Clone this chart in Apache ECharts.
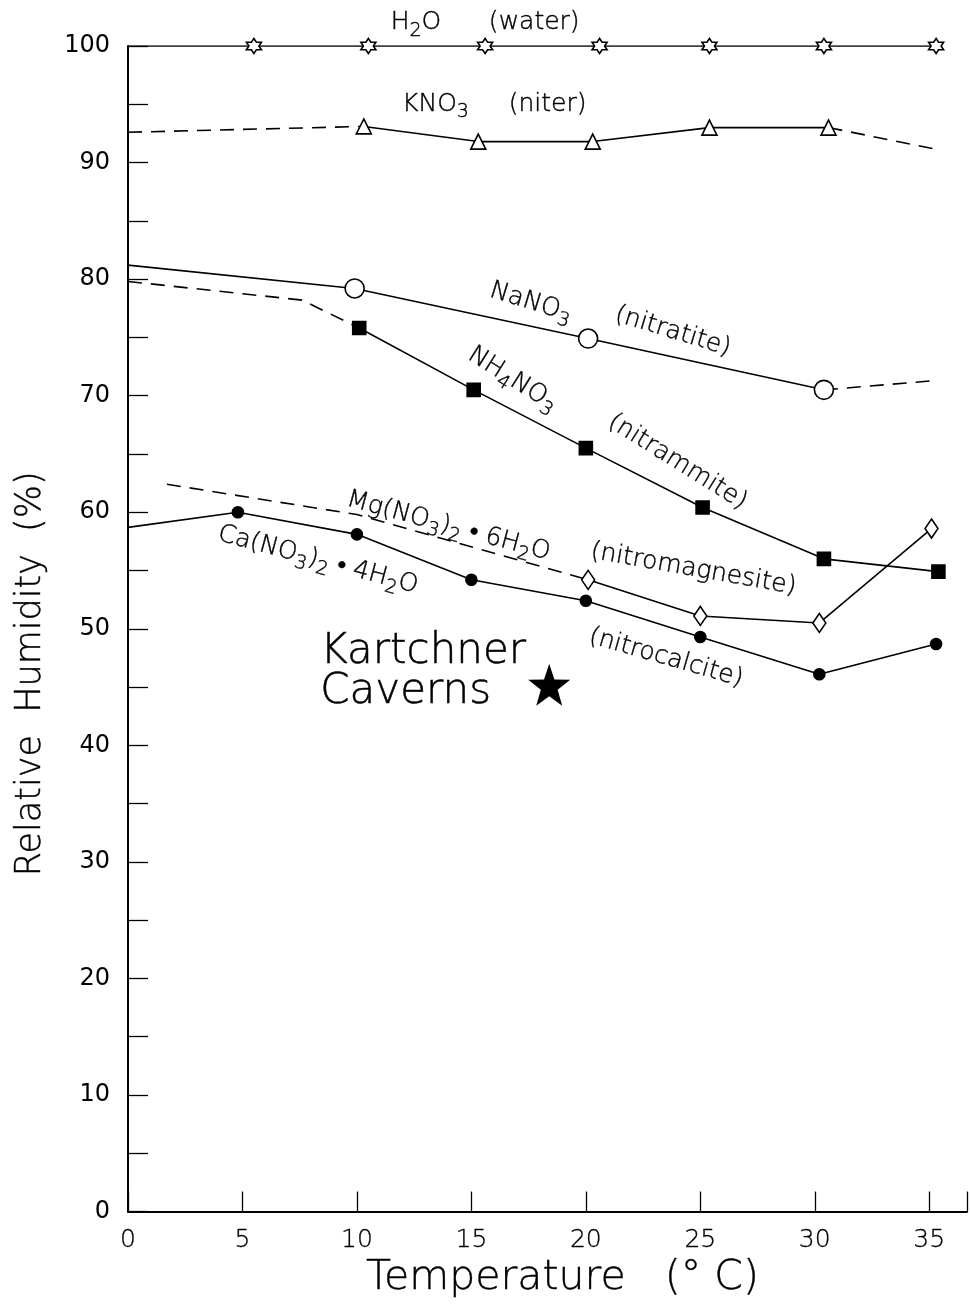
<!DOCTYPE html>
<html>
<head>
<meta charset="utf-8">
<script src="https://cdn.jsdelivr.net/npm/echarts@6/dist/echarts.min.js"></script>
<style>html,body{margin:0;padding:0;background:#fff}#c{width:970px;height:1304px}</style>
</head>
<body>
<div id="c"></div>
<script>
// ---- data (temperature °C, relative humidity %) ----
const h2oPts = [[5.5,100],[10.5,100],[15.6,100],[20.6,100],[25.4,100],[30.4,100],[35.3,100]];
const h2oSolidIn = [[0,100],[5.5,100]];
const kno3Pts = [[10.3,93.1],[15.3,91.8],[20.3,91.8],[25.4,93.0],[30.6,93.0]];
const kno3DashIn = [[0,92.6],[10.3,93.1]];
const kno3DashOut = [[30.6,93.0],[35.4,91.1]];
const nano3Pts = [[9.9,79.2],[20.1,74.9],[30.4,70.5]];
const nano3SolidIn = [[0,81.2],[9.9,79.2]];
const nano3DashOut = [[30.4,70.5],[35.3,71.3]];
const nh4Pts = [[10.1,75.8],[15.1,70.5],[20.0,65.5],[25.1,60.4],[30.4,56.0],[35.4,54.9]];
const nh4DashIn = [[0,79.8],[7.6,78.2],[10.1,75.8]];
const mgPts = [[20.1,54.2],[25.0,51.1],[30.2,50.5],[35.1,58.6]];
const mgDashIn = [[1.7,62.4],[10.0,59.8],[20.1,54.2]];
const caPts = [[4.8,60.0],[10.0,58.1],[15.0,54.2],[20.0,52.4],[25.0,49.3],[30.2,46.1],[35.3,48.7]];
const caSolidIn = [[0,58.7],[4.8,60.0]];
const kartchner = [[18.4,45.2]];
const xTicks = [0,5,10,15,20,25,30,35];
const yTicks = [0,10,20,30,40,50,60,70,80,90,100];

// ---- annotation texts ----
const labels = [
  {text: 'H{s|2}O      (water)', at: [15.6, 102.0], rot: 0},
  {text: 'KNO{s|3}     (niter)', at: [16.0, 95.0], rot: 0},
  {text: 'NaNO{s|3}', at: [17.6, 78.0], rot: -17},
  {text: '(nitratite)', at: [23.8, 75.5], rot: -17},
  {text: 'NH{s|4}NO{s|3}', at: [16.8, 71.4], rot: -32},
  {text: '(nitrammite)', at: [24.0, 64.3], rot: -32},
  {text: 'Mg(NO{s|3}){s|2} • 6H{s|2}O', at: [14.0, 58.8], rot: -15},
  {text: '(nitromagnesite)', at: [24.7, 55.1], rot: -10},
  {text: 'Ca(NO{s|3}){s|2} • 4H{s|2}O', at: [8.3, 55.9], rot: -15},
  {text: '(nitrocalcite)', at: [23.5, 47.5], rot: -16}
];
const caveText = 'Kartchner\nCaverns';
const caveAt = [8.4, 46.3];

const FONT = "'DejaVu Sans',sans-serif";
const LIGHT = 200;
const hexagram = 'path://M0,-10L2.89,-5L8.66,-5L5.77,0L8.66,5L2.89,5L0,10L-2.89,5L-8.66,5L-5.77,0L-8.66,-5L-2.89,-5Z';
const star5 = 'path://M0,-10L2.35,-3.24L9.51,-3.09L3.8,1.24L5.88,8.09L0,4L-5.88,8.09L-3.8,1.24L-9.51,-3.09L-2.35,-3.24Z';

function line(data, opts) {
  return Object.assign({
    type: 'line', data: data, showSymbol: false, symbol: 'none',
    lineStyle: {color: '#000', width: 1.6, type: 'solid'},
    silent: true, animation: false, z: 2
  }, opts || {});
}
function marked(data, symbol, size, filled) {
  return {
    type: 'line', data: data, symbol: symbol, symbolSize: size, showSymbol: true,
    lineStyle: {color: '#000', width: 1.6},
    itemStyle: {color: filled ? '#000' : '#fff', borderColor: '#000', borderWidth: 1.6, opacity: 1},
    animation: false, silent: true, z: 3
  };
}
const dash = {color: '#000', width: 1.6, type: [14, 9]};

const richSub = {
  s: {fontSize: 19, fontFamily: FONT, fontWeight: LIGHT, color: '#000', padding: [16, 0, 0, 0]}
};

const labelSeries = {
  type: 'scatter', clip: false, symbolSize: 0, silent: true, animation: false, z: 5,
  itemStyle: {opacity: 1},
  data: labels.map(l => ({
    value: l.at,
    label: {
      show: true, position: 'inside', rotate: l.rot,
      formatter: l.text, fontSize: 25, fontFamily: FONT, fontWeight: LIGHT, color: '#000',
      textBorderColor: '#000', textBorderWidth: 0.4,
      rich: richSub
    }
  }))
};
const caveSeries = {
  type: 'scatter', clip: false, symbolSize: 0, silent: true, animation: false, z: 5,
  itemStyle: {opacity: 1},
  data: [{value: caveAt, label: {show: true, position: 'inside', align: 'left',
    formatter: caveText, fontSize: 42, lineHeight: 40, fontFamily: FONT, fontWeight: LIGHT, color: '#000',
    textBorderColor: '#000', textBorderWidth: 0.5}}]
};

const chart = echarts.init(document.getElementById('c'), null, {renderer: 'canvas'});
chart.setOption({
  backgroundColor: '#fff',
  animation: false,
  grid: {left: 128, right: 2, top: 46, bottom: 92, containLabel: false},
  xAxis: {
    type: 'value', min: 0, max: 36.65, interval: 5,
    name: 'Temperature   (° C)', nameLocation: 'middle', nameGap: 44,
    nameTextStyle: {fontSize: 41, fontFamily: FONT, fontWeight: LIGHT, color: '#000', padding: [0, 0, 0, 30],
      textBorderColor: '#000', textBorderWidth: 0.4},
    axisLine: {lineStyle: {color: '#000', width: 2}},
    axisTick: {inside: true, length: 20, lineStyle: {color: '#000', width: 1.3}},
    axisLabel: {fontSize: 25, fontFamily: FONT, fontWeight: LIGHT, color: '#000', margin: 16,
      textBorderColor: '#000', textBorderWidth: 0.3,
      formatter: v => xTicks.indexOf(v) >= 0 ? String(v) : ''},
    splitLine: {show: false}
  },
  yAxis: {
    type: 'value', min: 0, max: 100, interval: 5,
    name: 'Relative  Humidity  (%)', nameLocation: 'middle', nameGap: 80,
    nameTextStyle: {fontSize: 35, fontFamily: FONT, fontWeight: LIGHT, color: '#000', padding: [0, 90, 0, 0],
      textBorderColor: '#000', textBorderWidth: 0.4},
    axisLine: {lineStyle: {color: '#000', width: 2}},
    axisTick: {inside: true, length: 20, lineStyle: {color: '#000', width: 1.3}},
    axisLabel: {fontSize: 24, fontFamily: FONT, color: '#000', margin: 18,
      formatter: v => yTicks.indexOf(v) >= 0 ? String(v) : ''},
    splitLine: {show: false}
  },
  series: [
    line(h2oSolidIn),
    marked(h2oPts, hexagram, 15, false),
    line(kno3DashIn, {lineStyle: dash}),
    line(kno3DashOut, {lineStyle: dash}),
    marked(kno3Pts, 'triangle', 15, false),
    line(nano3SolidIn),
    line(nano3DashOut, {lineStyle: dash}),
    marked(nano3Pts, 'circle', 19, false),
    line(nh4DashIn, {lineStyle: dash}),
    marked(nh4Pts, 'rect', 13, true),
    line(mgDashIn, {lineStyle: dash}),
    marked(mgPts, 'diamond', [13, 19], false),
    line(caSolidIn),
    marked(caPts, 'circle', 11, true),
    {type: 'scatter', data: kartchner, symbol: star5, symbolSize: 42,
      itemStyle: {color: '#000', opacity: 1}, silent: true, animation: false, z: 4},
    labelSeries,
    caveSeries
  ]
});
</script>
</body>
</html>
